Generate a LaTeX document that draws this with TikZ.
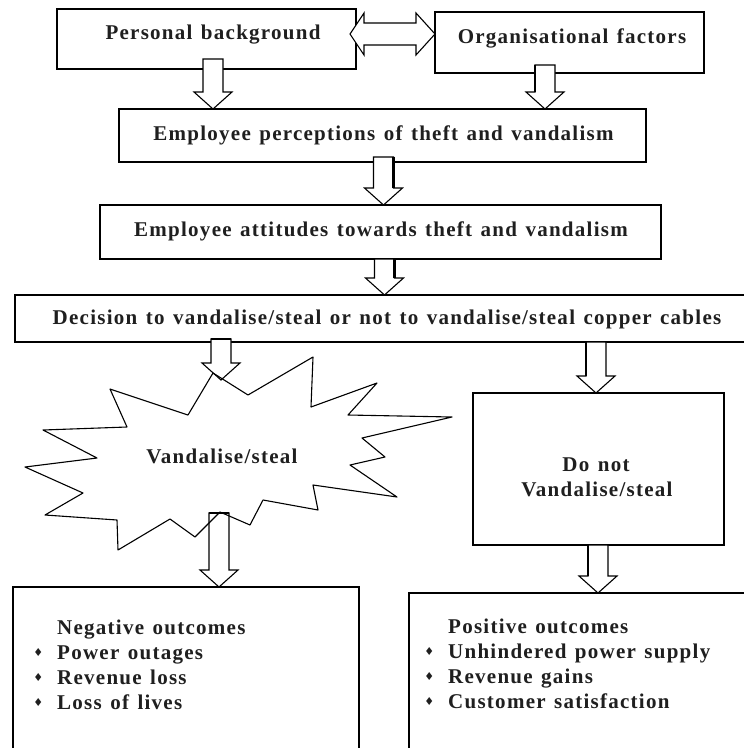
\documentclass[tikz,border=0pt]{standalone}
\usepackage{fontspec}
\setmainfont{Liberation Serif}[LetterSpace=6,WordSpace=1.3]
\newfontfamily\symfont{DejaVu Sans}
\usetikzlibrary{calc}
\newcommand\bul{\raisebox{3pt}{\symfont\fontsize{11}{11}\selectfont ♦}}
\newcommand\bcell{\makebox[24pt][l]{\makebox[10pt]{\bul}}}
\newcommand\blockdown[2]{%
  \filldraw[blk] let \p1=#1, \p2=#2 in
   (\x1-10pt,\y1) -- (\x1-10pt,\y2+17pt) -- (\x1-19pt,\y2+17pt) -- (\x1,\y2)
   -- (\x1+19pt,\y2+17pt) -- (\x1+10pt,\y2+17pt) -- (\x1+10pt,\y1) -- cycle;}
\newcommand\shaftside[3]{%
  \draw[heavy] let \p1=#1, \p2=#2 in (\x1+#3,\y1) -- (\x1+#3,\y2+17pt);}
\newcommand\shafttop[1]{%
  \draw[heavy] let \p1=#1 in (\x1-10pt,\y1) -- (\x1+10pt,\y1);}
\begin{document}
\begin{tikzpicture}[x=1pt,y=-1pt,
  box/.style={draw, line width=1.1pt, inner sep=0pt, outer sep=0pt, fill=white},
  txt/.style={inner sep=0pt, font=\bfseries\fontsize{21}{25}\selectfont, text=black!88},
  blk/.style={draw, fill=white, line width=1.1pt, line join=miter},
  heavy/.style={line width=2.6pt},
  starline/.style={draw, line width=1.1pt, line join=round}]
\fill[white] (0,0) rectangle (744,748);
\useasboundingbox (0,0) rectangle (744,748);

% boxes
\node[box, minimum width=299pt, minimum height=60pt] (pb) at (206.5,39) {};
\node[box, minimum width=269pt, minimum height=61pt] (of) at (569.5,42.5) {};
\node[box, minimum width=527pt, minimum height=53pt] (pp) at (382.5,135.5) {};
\node[box, minimum width=561pt, minimum height=54pt] (pa) at (380.5,232) {};
\node[box, minimum width=745pt, minimum height=47pt] (dc) at (387.5,318.5) {};
\node[box, minimum width=251pt, minimum height=152pt] (dn) at (598.5,469) {};
\node[box, minimum width=346pt, minimum height=183pt] (neg) at (186,678.5) {};
\node[box, minimum width=361pt, minimum height=177pt] (pos) at (589.5,681.5) {};

% heavy edges
\draw[heavy] (pp.south west) -- (pp.south east);
\draw[heavy] (pa.south west) -- (pa.north west);
\draw[heavy] (dn.south west) -- (dn.south east);

% texts
\node[txt, anchor=base] (pbt) at (213,39) {Personal background};
\node[txt, anchor=base] (oft) at (572,43) {Organisational factors};
\node[txt, anchor=base] (ppt) at (383.5,140) {Employee perceptions of theft and vandalism};
\node[txt, anchor=base] (pat) at (381,236) {Employee attitudes towards theft and vandalism};
\node[txt, anchor=base] (dct) at (387,324) {Decision to vandalise/steal or not to vandalise/steal copper cables};
\node[txt, anchor=base] (dnt1) at (596,471) {Do not};
\node[txt, anchor=base] (dnt2) at (597,496) {Vandalise/steal};
\node[txt, anchor=base west] (negt) at (33,634) {%
  \begin{tabular}[t]{@{}l@{}l@{}}
  \hspace*{24pt} & Negative outcomes\\
  \bcell & Power outages\\
  \bcell & Revenue loss\\
  \bcell & Loss of lives
  \end{tabular}};
\node[txt, anchor=base west] (post) at (424,633) {%
  \begin{tabular}[t]{@{}l@{}l@{}}
  \hspace*{24pt} & Positive outcomes\\
  \bcell & Unhindered power supply\\
  \bcell & Revenue gains\\
  \bcell & Customer satisfaction
  \end{tabular}};

% coordinates on the starburst
\coordinate (vstop) at (221,380);
\coordinate (vsbot) at (219,513);

% double arrow between the two top boxes
\filldraw[blk] let \p1=($(pb.east)+(0,-5)$), \p2=(of.west) in
  (\x1-6pt,\y1) -- (\x1+8pt,\y1+21pt) -- (\x1+8pt,\y1+11pt) -- (\x2-19pt,\y1+11pt)
  -- (\x2-19pt,\y1+21pt) -- (\x2,\y1) -- (\x2-19pt,\y1-21pt) -- (\x2-19pt,\y1-11pt)
  -- (\x1+8pt,\y1-11pt) -- (\x1+8pt,\y1-21pt) -- cycle;

% block arrows
\blockdown{($(pb.south west)+(156,-10)$)}{(pp.north)}
\blockdown{($(of.south west)+(110,-8)$)}{(pp.north)}
\shaftside{($(of.south west)+(110,-8)$)}{(pp.north)}{-10pt}
\blockdown{($(pp.south west)+(264.5,-5)$)}{(pa.north)}
\shaftside{($(pp.south west)+(264.5,-5)$)}{(pa.north)}{10pt}
\blockdown{($(pa.south west)+(284.5,0)$)}{(dc.north)}
\shaftside{($(pa.south west)+(284.5,0)$)}{(dc.north)}{10pt}
\blockdown{($(dc.south west)+(206,-3)$)}{(vstop)}
\shafttop{($(dc.south west)+(206,-3)$)}
\blockdown{($(dc.south west)+(581,0)$)}{(dn.north)}
\shaftside{($(dc.south west)+(581,0)$)}{(dn.north)}{-10pt}
\blockdown{(vsbot)}{(neg.north)}
\shafttop{(vsbot)}
\blockdown{($(dn.south west)+(125,0)$)}{(pos.north)}
\shaftside{($(dn.south west)+(125,0)$)}{(pos.north)}{-10pt}

% starburst
\draw[starline] (110,389) -- (188,415) -- (213,373) -- (248,395) -- (313,357)
  -- (311,407) -- (377,383) -- (348,415) -- (452,417) -- (362,438) -- (385,457)
  -- (350,465) -- (397,497) -- (313,485) -- (318,510) -- (263,500) -- (250,525)
  -- (220,512) -- (195,537) -- (170,519) -- (118,550) -- (117,520) -- (45,515)
  -- (83,493) -- (25,467) -- (97,458) -- (43,430) -- (127,427) -- cycle;
\node[txt, anchor=base] (vst) at (222,463) {Vandalise/steal};
\end{tikzpicture}
\end{document}
